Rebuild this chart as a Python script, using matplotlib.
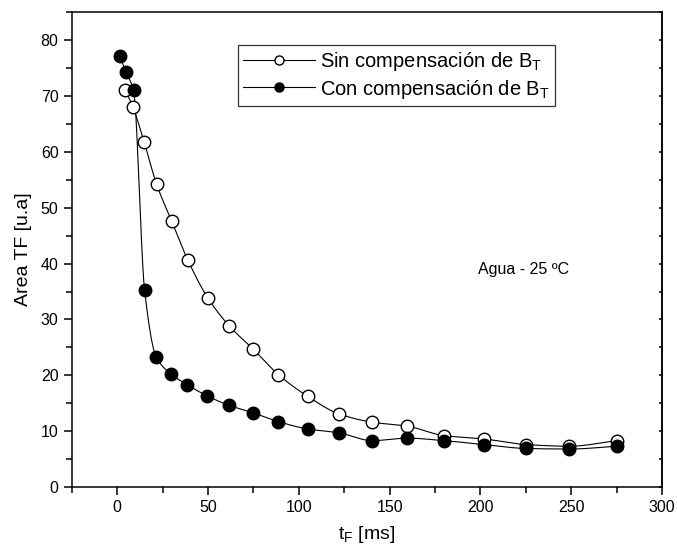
import numpy as np
import matplotlib
matplotlib.use("Agg")
import matplotlib.pyplot as plt
from matplotlib.ticker import MultipleLocator

plt.rcParams['font.family'] = ['Liberation Sans', 'DejaVu Sans']
plt.rcParams['mathtext.fontset'] = 'custom'
plt.rcParams['mathtext.rm'] = 'Liberation Sans'
plt.rcParams['mathtext.it'] = 'Liberation Sans'

# datos
t_con = [1.5, 4.8, 9.0, 15.1, 21.5, 29.8, 38.6, 49.6, 61.8, 74.6, 88.8, 104.8,
         122, 140.5, 159.5, 180, 202, 225, 249, 275]
area_con = [77.1, 74.3, 71.0, 35.2, 23.3, 20.2, 18.3, 16.3, 14.6, 13.3, 11.7, 10.4,
            9.7, 8.3, 8.75, 8.3, 7.6, 6.9, 6.8, 7.3]

t_sin = [4.4, 8.6, 14.9, 21.7, 30.0, 38.8, 49.8, 61.8, 74.8, 88.8, 104.8,
         122, 140.5, 159.5, 180, 202, 225, 249, 275]
area_sin = [71.1, 68.1, 61.7, 54.2, 47.6, 40.7, 33.9, 28.8, 24.7, 20.1, 16.25,
            13.1, 11.6, 10.9, 9.2, 8.6, 7.6, 7.3, 8.3]

label_sin = "Sin compensación de B$_\\mathrm{T}$"
label_con = "Con compensación de B$_\\mathrm{T}$"


def smooth(x, y, n=500):
    # curva monotona (tipo spline de Origin) que pasa por los puntos
    x = np.asarray(x, float)
    y = np.asarray(y, float)
    h = np.diff(x)
    d = np.diff(y) / h
    m = np.zeros_like(y)
    for k in range(1, len(x) - 1):
        if d[k - 1] * d[k] > 0:
            w1 = 2 * h[k] + h[k - 1]
            w2 = h[k] + 2 * h[k - 1]
            m[k] = (w1 + w2) / (w1 / d[k - 1] + w2 / d[k])
    m[0] = d[0]
    m[-1] = d[-1]
    xs = np.linspace(x[0], x[-1], n)
    i = np.clip(np.searchsorted(x, xs) - 1, 0, len(h) - 1)
    t = (xs - x[i]) / h[i]
    ys = ((2 * t**3 - 3 * t**2 + 1) * y[i] + (t**3 - 2 * t**2 + t) * h[i] * m[i]
          + (-2 * t**3 + 3 * t**2) * y[i + 1] + (t**3 - t**2) * h[i] * m[i + 1])
    return xs, ys


fig = plt.figure(figsize=(6.77, 5.55), dpi=100)
ax = fig.add_axes([0.106, 0.1225, 0.872, 0.8555])

xs, ys = smooth(t_sin, area_sin)
ax.plot(xs, ys, color='black', lw=0.8)
xs, ys = smooth(t_con, area_con)
ax.plot(xs, ys, color='black', lw=0.8)

ax.plot(t_sin, area_sin, 'o', ms=9, mfc='white', mec='black', mew=1.0)
ax.plot(t_con, area_con, 'o', ms=9, mfc='black', mec='black')

# entradas de la leyenda
ax.plot([], [], '-o', color='black', lw=0.8, ms=6.5, mfc='white', mec='black', label=label_sin)
ax.plot([], [], '-o', color='black', lw=0.8, ms=6.5, mfc='black', label=label_con)
leg = ax.legend(loc='upper right', bbox_to_anchor=(0.819, 0.93), borderaxespad=0,
                fontsize=14.5, frameon=True, fancybox=False, handlelength=3.6,
                handletextpad=0.25, borderpad=0.25, labelspacing=0.2)
leg.get_frame().set_edgecolor('black')
leg.get_frame().set_linewidth(0.9)

ax.text(224, 39, "Agua - 25 ºC", fontsize=11.5, ha='center', va='center')

ax.set_xlim(-25, 300)
ax.set_ylim(0, 85)
ax.xaxis.set_major_locator(MultipleLocator(50))
ax.xaxis.set_minor_locator(MultipleLocator(25))
ax.yaxis.set_major_locator(MultipleLocator(10))
ax.yaxis.set_minor_locator(MultipleLocator(5))

ax.set_xlabel("t$_\\mathrm{F}$ [ms]", fontsize=14, labelpad=6)
ax.set_ylabel("Area TF [u.a]", fontsize=14, labelpad=6)

for s in ax.spines.values():
    s.set_linewidth(1.1)
ax.tick_params(which='both', direction='out', top=False, right=False, labelsize=11.5, width=1.1)
ax.tick_params(which='major', length=6)
ax.tick_params(which='minor', length=4)

# marcas muy cortas hacia dentro en el eje derecho
ax3 = ax.secondary_yaxis('right')
ax3.yaxis.set_major_locator(MultipleLocator(5))
ax3.tick_params(which='both', direction='in', labelright=False, width=1.1, length=2)
ax3.spines['right'].set_linewidth(1.1)

fig.savefig("out.png", dpi=100)
